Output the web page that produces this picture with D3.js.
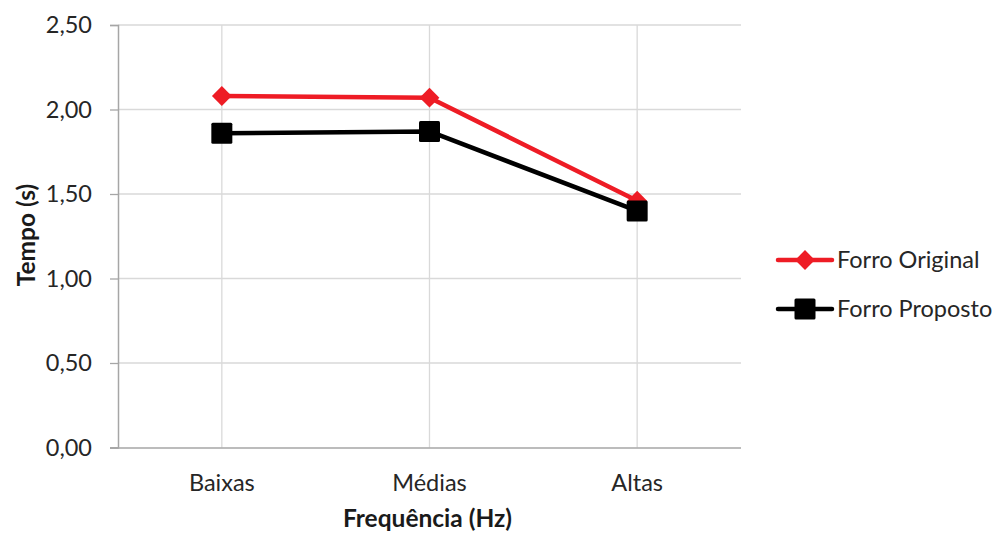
<!DOCTYPE html>
<html>
<head>
<meta charset="utf-8">
<script src="https://cdn.jsdelivr.net/npm/d3@7"></script>
<style>
  html, body { margin: 0; padding: 0; background: #fff; }
  svg { display: block; font-family: Lato, "Open Sans", sans-serif; }
</style>
</head>
<body>
<svg id="chart" width="1002" height="536"></svg>
<script>
// Reverberation time per frequency band
const categories = ["Baixas", "Médias", "Altas"];
const forroOriginal = [2.08, 2.07, 1.46];
const forroProposto = [1.86, 1.87, 1.40];
const yTicks = [0, 0.5, 1.0, 1.5, 2.0, 2.5];
const seriesNames = ["Forro Original", "Forro Proposto"];
const xTitle = "Frequência (Hz)";
const yTitle = "Tempo (s)";

const svg = d3.select("#chart");
const plotLeft = 118, plotRight = 741, plotTop = 25, plotBottom = 447.5;
const labelSize = 23.5;

const x = d3.scaleBand().domain(categories).range([plotLeft, plotRight]);
const y = d3.scaleLinear().domain([0, 2.5]).range([plotBottom, plotTop]);
const fmt = v => d3.format(".2f")(v).replace(".", ",");
const cx = c => x(c) + x.bandwidth() / 2;

// horizontal gridlines
svg.append("g")
  .selectAll("line").data(yTicks.filter(t => t > 0)).join("line")
  .attr("x1", plotLeft).attr("x2", plotRight)
  .attr("y1", d => y(d)).attr("y2", d => y(d))
  .attr("stroke", "#d9d9d9").attr("stroke-width", 1.3);

// vertical gridlines at each category
svg.append("g")
  .selectAll("line").data(categories).join("line")
  .attr("x1", d => cx(d)).attr("x2", d => cx(d))
  .attr("y1", plotTop).attr("y2", plotBottom)
  .attr("stroke", "#d9d9d9").attr("stroke-width", 1.3);

// y axis
const yAxis = svg.append("g")
  .attr("transform", `translate(${plotLeft},0)`)
  .call(d3.axisLeft(y).tickValues(yTicks).tickFormat(fmt).tickSize(8).tickPadding(18));
yAxis.select(".domain").attr("stroke", "#a6a6a6").attr("stroke-width", 1.5);
yAxis.selectAll(".tick line").attr("stroke", "#a6a6a6").attr("stroke-width", 1.3);
yAxis.selectAll("text").attr("font-size", labelSize).attr("fill", "#262626")
  .attr("font-family", "Lato, sans-serif");

// x axis
const xAxis = svg.append("g")
  .attr("transform", `translate(0,${plotBottom})`)
  .call(d3.axisBottom(x).tickSize(0).tickPadding(27));
xAxis.select(".domain").attr("stroke", "#a6a6a6").attr("stroke-width", 1.5)
  .attr("d", `M${plotLeft - 8},0.5H${plotRight}`);
xAxis.selectAll("text").attr("font-size", labelSize).attr("fill", "#262626")
  .attr("font-family", "Lato, sans-serif");

// axis titles
svg.append("text")
  .attr("x", (plotLeft + plotRight) / 2 - 2).attr("y", 527)
  .attr("text-anchor", "middle").attr("font-size", 24.5).attr("font-weight", "bold")
  .attr("fill", "#1a1a1a").text(xTitle);
svg.append("text")
  .attr("transform", `translate(35,235) rotate(-90)`)
  .attr("text-anchor", "middle").attr("font-size", 24.5).attr("font-weight", "bold")
  .attr("fill", "#1a1a1a").text(yTitle);

// series
const line = d3.line().x((d, i) => cx(categories[i])).y(d => y(d));
const diamond = d3.symbol().type(d3.symbolDiamond2).size(250);

const series = [
  { name: seriesNames[0], values: forroOriginal, color: "#ee1c25", marker: "diamond" },
  { name: seriesNames[1], values: forroProposto, color: "#000000", marker: "square" }
];

function drawMarker(g, s, px, py) {
  if (s.marker === "diamond") {
    g.append("path").attr("d", diamond()).attr("transform", `translate(${px},${py})`)
      .attr("fill", s.color);
  } else {
    g.append("rect").attr("x", px - 10.5).attr("y", py - 10.5).attr("width", 21).attr("height", 21)
      .attr("fill", s.color).attr("rx", 1.5);
  }
}

series.forEach(s => {
  svg.append("path").datum(s.values).attr("d", line)
    .attr("fill", "none").attr("stroke", s.color).attr("stroke-width", 4.5)
    .attr("stroke-linejoin", "round");
  const g = svg.append("g");
  s.values.forEach((v, i) => drawMarker(g, s, cx(categories[i]), y(v)));
});

// legend
const legend = svg.append("g");
series.forEach((s, i) => {
  const ly = 260 + i * 49;
  legend.append("line").attr("x1", 778).attr("x2", 832).attr("y1", ly).attr("y2", ly)
    .attr("stroke", s.color).attr("stroke-width", 4.5).attr("stroke-linecap", "round");
  drawMarker(legend, s, 805, ly);
  legend.append("text").attr("x", 837).attr("y", ly + 7.5)
    .attr("font-size", labelSize).attr("fill", "#262626").text(s.name);
});
</script>
</body>
</html>
